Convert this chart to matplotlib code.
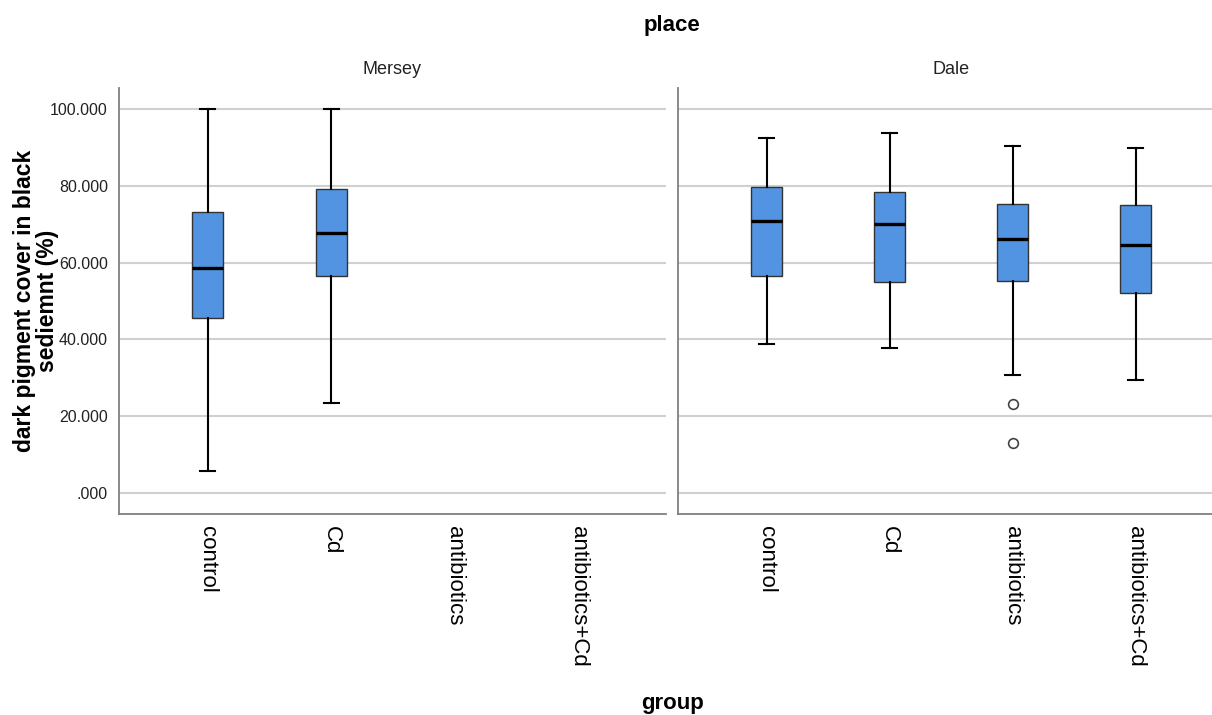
import matplotlib
matplotlib.use("Agg")
import matplotlib.pyplot as plt
from matplotlib.ticker import FuncFormatter

plt.rcParams['font.family'] = ['Liberation Sans', 'DejaVu Sans']

groups = ['control', 'Cd', 'antibiotics', 'antibiotics+Cd']
places = ['Mersey', 'Dale']

# Mersey: only control and Cd have data
mersey_low = [5.7, 23.4]
mersey_q1 = [45.7, 56.6]
mersey_med = [58.7, 67.6]
mersey_q3 = [73.2, 79.3]
mersey_high = [100.0, 100.0]
mersey_fliers = [[], []]

dale_low = [38.9, 37.7, 30.6, 29.3]
dale_q1 = [56.5, 54.9, 55.2, 52.2]
dale_med = [70.8, 70.0, 66.2, 64.6]
dale_q3 = [79.6, 78.3, 75.2, 74.9]
dale_high = [92.4, 93.7, 90.3, 89.9]
dale_fliers = [[], [], [23.1, 12.9], []]

BOX_COLOR = '#5294e2'
GRID_COLOR = '#d0d0d0'
SPINE_COLOR = '#808080'


def make_stats(low, q1, med, q3, high, fliers):
    stats = []
    for i in range(len(med)):
        stats.append(dict(whislo=low[i], q1=q1[i], med=med[i], q3=q3[i],
                          whishi=high[i], fliers=fliers[i]))
    return stats


def fmt(v, pos):
    s = "%.3f" % v
    if s.startswith("0."):
        s = s[1:]
    return s


def draw_panel(ax, stats, xlim, show_ylabels):
    ax.bxp(stats, positions=range(len(stats)), widths=0.25, patch_artist=True,
           boxprops=dict(facecolor=BOX_COLOR, edgecolor='#333333', linewidth=1.0),
           medianprops=dict(color='black', linewidth=2.4),
           whiskerprops=dict(color='black', linewidth=1.5),
           capprops=dict(color='black', linewidth=1.5),
           capwidths=0.12,
           flierprops=dict(marker='o', markerfacecolor='white', markeredgecolor='#444444',
                           markersize=7, markeredgewidth=1.2),
           zorder=3)
    ax.set_xlim(*xlim)
    ax.set_ylim(-5.5, 105.5)
    ax.set_yticks([0, 20, 40, 60, 80, 100])
    ax.yaxis.set_major_formatter(FuncFormatter(fmt))
    ax.set_xticks(range(len(groups)))
    ax.set_xticklabels(groups, rotation=-90, fontsize=16, va='top', ha='center')
    ax.tick_params(axis='both', length=0)
    ax.tick_params(axis='x', pad=9)
    ax.tick_params(axis='y', pad=8, labelsize=11.5, labelcolor='#222222')
    if not show_ylabels:
        ax.tick_params(axis='y', labelleft=False)
    ax.grid(axis='y', color=GRID_COLOR, linewidth=1.5, zorder=0)
    ax.set_axisbelow(True)
    for side in ['top', 'right']:
        ax.spines[side].set_visible(False)
    for side in ['left', 'bottom']:
        ax.spines[side].set_color(SPINE_COLOR)
        ax.spines[side].set_linewidth(1.3)


fig = plt.figure(figsize=(12.12, 7.15), dpi=100)
ax1 = fig.add_axes([119 / 1212, 1 - 514 / 715, (666 - 119) / 1212, (514 - 88) / 715])
ax2 = fig.add_axes([678 / 1212, 1 - 514 / 715, (1212 - 678) / 1212, (514 - 88) / 715])

draw_panel(ax1, make_stats(mersey_low, mersey_q1, mersey_med, mersey_q3, mersey_high, mersey_fliers),
           (-0.72, 3.71), True)
draw_panel(ax2, make_stats(dale_low, dale_q1, dale_med, dale_q3, dale_high, dale_fliers),
           (-0.72, 3.62), False)

fig.text(392.5 / 1212, 1 - 70 / 715, places[0], ha='center', va='center', fontsize=13, color='#222222')
fig.text(951 / 1212, 1 - 70 / 715, places[1], ha='center', va='center', fontsize=13, color='#222222')

fig.text(672 / 1212, 1 - 25 / 715, 'place', ha='center', va='center', fontsize=16, fontweight='bold')
fig.text(672 / 1212, 1 - 703 / 715, 'group', ha='center', va='center', fontsize=16, fontweight='bold')
fig.text(36 / 1212, 1 - 301 / 715, 'dark pigment cover in black\nsediemnt (%)', rotation=90,
         ha='center', va='center', multialignment='center', fontsize=16.5, fontweight='bold',
         linespacing=0.95)

fig.savefig('out.png', dpi=100)
